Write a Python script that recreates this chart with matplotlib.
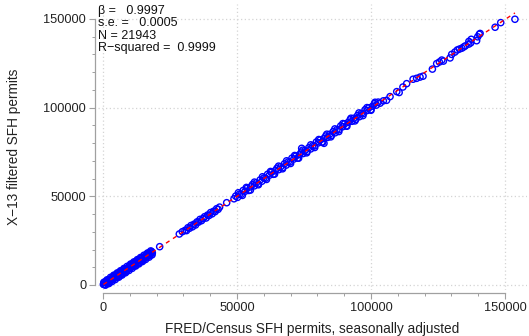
import numpy as np
import matplotlib
matplotlib.use("Agg")
import matplotlib.pyplot as plt
from matplotlib.ticker import MultipleLocator

plt.rcParams['font.family'] = ['Liberation Sans', 'DejaVu Sans']

# FRED/Census vs X-13 filtered permits
fred_low = [150, 420, 700, 980, 1250, 1530, 1800, 2100, 2380, 2650, 2950, 3220, 3500, 3780,
            4050, 4330, 4620, 4900, 5180, 5450, 5740, 6020, 6300, 6570, 6850, 7140, 7420, 7700,
            7980, 8260, 8540, 8830, 9100, 9390, 9670, 9950, 10230, 10520, 10800, 11080, 11360,
            11650, 11930, 12210, 12500, 12780, 13060, 13340, 13630, 13910, 14200, 14480, 14760,
            15040, 15330, 15610, 15900, 16180, 16460, 16750, 17030, 17320, 17600, 17880, 18150, 18400,
            300, 900, 1500, 2200, 2800, 3400, 4000, 4600, 5300, 5900, 6500, 7100, 7800, 8400, 9000,
            9700, 10300, 10900, 11500, 12200, 12800, 13400, 14000, 14700, 15300, 15900, 16600,
            17200, 17800, 18300]
x13_low = [380, 260, 1700, 80, 1550, 1330, 2700, 1400, 2880, 1650, 3050, 3820, 3100, 4580,
           3450, 5430, 4320, 5300, 4380, 5650, 6740, 4920, 7000, 6070, 7850, 6240, 7720, 7500,
           8880, 7560, 9040, 7830, 9200, 9990, 9270, 10750, 9630, 11620, 10500, 11480, 10560,
           11850, 12930, 11110, 13200, 12280, 14060, 12440, 13930, 13710, 15100, 13780, 15260,
           14040, 15430, 16210, 15500, 16980, 15860, 17850, 16730, 17720, 16800, 18080, 18850, 18100,
           1500, 0, 2900, 800, 4300, 2000, 5500, 3100, 6800, 4400, 8000, 5600, 9300, 6900, 10500,
           8200, 11800, 9400, 13000, 10700, 14300, 11900, 15500, 13200, 16800, 14400, 18000,
           15700, 19200, 17000]

fred_mid = [21150, 28470, 29590, 30600, 31150, 31700, 32280, 32850, 33400, 33960, 34520, 35080,
            35650, 36200, 36770, 37330, 37900, 38460, 39020, 39580, 40150, 40700, 41260, 41830,
            42400, 42950, 43500, 46150, 48880]
x13_mid = [21600, 28750, 30040, 30800, 30650, 32300, 31980, 33550, 32800, 34260, 33820, 35580,
           35450, 37000, 36270, 37430, 38500, 37760, 39420, 39180, 40850, 40100, 41560, 41330,
           43000, 42650, 43900, 46390, 48600]

fred_high = [49500, 50200, 50900, 51600, 52300, 53000, 53700, 54400, 55100, 55800, 56500, 57200,
             57900, 58600, 59300, 60000, 60700, 61400, 62100, 62800, 63500, 64200, 64900, 65600,
             66300, 67000, 67700, 68400, 69100, 69800, 70500, 71200, 71900, 72600, 73300, 74000,
             74700, 75400, 76100, 76800, 77500, 78200, 78900, 79600, 80300, 81000, 81700, 82400,
             83100, 83800, 84500, 85200, 85900, 86600, 87300, 88000, 88700, 89400, 90100, 90800,
             91500, 92200, 92900, 93600, 94300, 95000, 95700, 96400, 97100, 97800, 98500, 99200,
             99900, 100600, 101300, 102000, 102700, 103400, 74130, 82460,
             50500, 52000, 53500, 55000, 56500, 58000, 59500, 61000, 62500, 64000, 65500, 67000,
             68500, 70000, 71500, 73000, 74500, 76000, 77500, 79000, 80500, 82000, 83500, 85000,
             86500, 88000, 89500, 91000, 92500, 94000, 95500, 97000, 98500, 100000, 101500]
x13_high = [50100, 49400, 51200, 51100, 53300, 52800, 54400, 53300, 55300, 56700, 55900, 57600,
            57000, 59200, 58500, 60300, 60200, 62400, 61900, 63500, 62400, 64400, 65800, 65000,
            66700, 66100, 68300, 67600, 69400, 69300, 71500, 71000, 72600, 71500, 73500, 74900,
            74100, 75800, 75200, 77400, 76700, 78500, 78400, 80600, 80100, 81700, 80600, 82600,
            84000, 83200, 84900, 84300, 86500, 85800, 87600, 87500, 89700, 89200, 90800, 89700,
            91700, 93100, 92300, 94000, 93400, 95600, 94900, 96700, 96600, 98800, 98300, 99900,
            98800, 100800, 102200, 101400, 103100, 102500, 77050, 79860,
            52000, 50500, 55000, 53500, 58000, 56500, 61000, 59500, 64000, 62500, 67000, 65500,
            70000, 68500, 73000, 71500, 76000, 74500, 79000, 77500, 82000, 80500, 85000, 83500,
            88000, 86500, 91000, 89500, 94000, 92500, 97000, 95500, 100000, 98500, 103000]

fred_top = [104600, 105800, 107100, 109600, 110500, 111900, 113300, 115700, 117000, 118300,
            119400, 122900, 124500, 125500, 126400, 127000, 129500, 130100, 131300, 132200,
            133000, 133900, 134600, 135200, 136500, 137200, 136500, 137400, 139400, 139800,
            140400, 140700, 146300, 148400, 153700]
x13_top = [103800, 104100, 106200, 109000, 108500, 111600, 113500, 116000, 116500, 117200,
           117700, 121700, 124800, 125700, 126800, 126200, 128000, 130000, 131300, 132500,
           133000, 133500, 134200, 134800, 135800, 136500, 137300, 138500, 137700, 139900,
           141300, 141800, 145300, 147900, 149800]

stats = ["\u03b2 =   0.9997", "s.e. =   0.0005", "N = 21943", "R\u2212squared =  0.9999"]

fred = np.array(fred_low + fred_mid + fred_high + fred_top, dtype=float)
x13 = np.array(x13_low + x13_mid + x13_high + x13_top, dtype=float)

W, H = 529, 336
fig = plt.figure(figsize=(W / 100, H / 100), dpi=100)
ax = fig.add_axes([98 / W, (H - 290) / H, 429 / W, 286 / H])

ax.scatter(fred, x13, s=20, facecolors='none', edgecolors='#0000ff', linewidths=1.0, zorder=3)

slope, intercept = np.polyfit(fred, x13, 1)
xs = np.array([fred.min(), fred.max()])
ax.plot(xs, slope * xs + intercept, color='#ff0000', lw=1.0, dashes=(3, 3), zorder=4)

ax.set_xlim(-1866, 158200)
ax.set_ylim(-2820, 158400)

ax.xaxis.set_major_locator(MultipleLocator(50000))
ax.yaxis.set_major_locator(MultipleLocator(50000))
ax.xaxis.set_minor_locator(MultipleLocator(10000))
ax.yaxis.set_minor_locator(MultipleLocator(10000))
ax.grid(True, which='major', color='#d4d4d4', linestyle=(0, (1, 2)), lw=0.9, zorder=0)

for side in ['top', 'right']:
    ax.spines[side].set_visible(False)
for side in ['left', 'bottom']:
    ax.spines[side].set_position(('outward', 2))
    ax.spines[side].set_bounds(0, 150000)
    ax.spines[side].set_color('#a0a0a0')
    ax.spines[side].set_linewidth(0.9)

ax.tick_params(which='major', length=4.5, width=0.8, color='#a0a0a0', labelsize=9.2,
               labelcolor='#222222', pad=2)
ax.tick_params(which='minor', length=2.5, width=0.7, color='#a0a0a0')

ax.set_xlabel("FRED/Census SFH permits, seasonally adjusted", fontsize=9.8, color='#222222',
              labelpad=6)
ax.set_ylabel("X\u221213 filtered SFH permits", fontsize=9.8, color='#222222', labelpad=16)

ax.text(0.0, 0.998, "\n".join(stats), transform=ax.transAxes, ha='left', va='top',
        fontsize=9, color='#111111', linespacing=1.07)

fig.savefig("out.png", dpi=100)
